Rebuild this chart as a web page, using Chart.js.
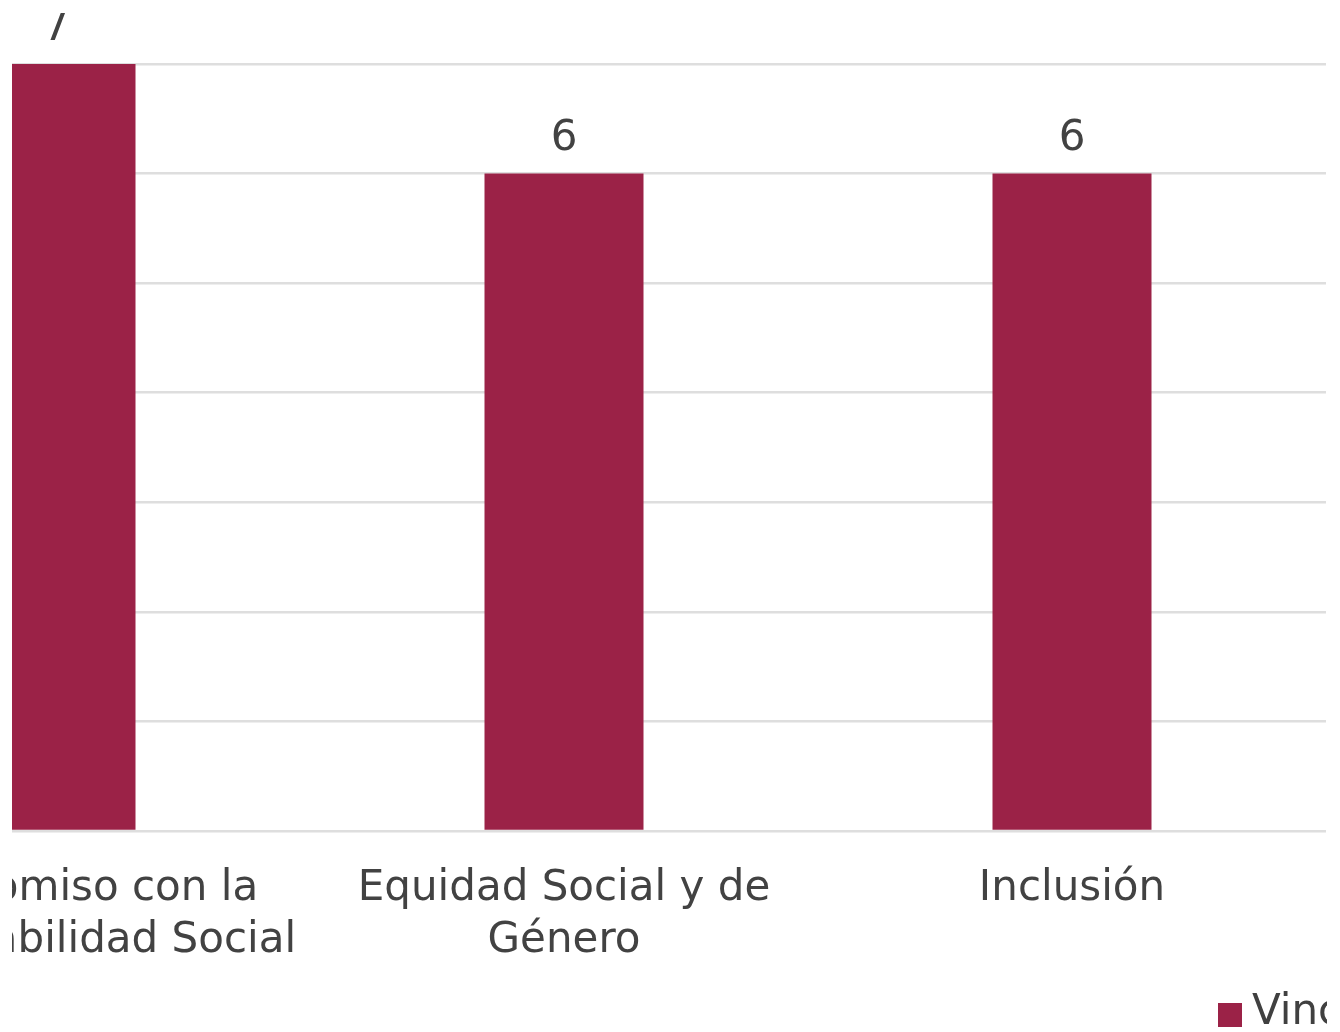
<!DOCTYPE html>
<html>
<head>
<meta charset="utf-8">
<script src="https://cdn.jsdelivr.net/npm/chart.js@4"></script>
<style>
  body { margin: 0; background: #fff; }
  #clip { position: absolute; left: 12px; top: 13px; width: 1315px; height: 1019px; overflow: hidden; }
  #wrap { position: absolute; left: -232px; top: -13px; width: 1560px; height: 1032px; }
  #legend { position: absolute; left: 1206px; top: 976px; white-space: nowrap;
            font: 42px "DejaVu Sans"; line-height: 42px; color: #404040; }
  #legend .box { position: absolute; left: 0; top: 14px; width: 24px; height: 24px; background: #9b2247; }
  #legend .txt { position: absolute; left: 34px; top: 0; }
</style>
</head>
<body>
<div id="clip">
  <div id="wrap"><canvas id="myChart"></canvas></div>
  <div id="legend"><span class="box"></span><span class="txt" id="legend-text"></span></div>
</div>
<script>
const categories = [
  ["Compromiso con la", "Responsabilidad Social"],
  ["Equidad Social y de", "Género"],
  ["Inclusión"],
];
const seriesName = "Vinculación";
const values = [7, 6, 6];
const yTicks = [0, 1, 2, 3, 4, 5, 6, 7];

const barColor = "#9b2247";
const textColor = "#424242";
const fontFamily = "'DejaVu Sans', sans-serif";

document.getElementById("legend-text").textContent = seriesName;

// value labels above each bar
const valueLabels = {
  id: "valueLabels",
  afterDatasetsDraw(chart) {
    const c = chart.ctx;
    c.save();
    c.font = "42px " + fontFamily;
    c.fillStyle = textColor;
    c.textAlign = "center";
    c.textBaseline = "alphabetic";
    chart.getDatasetMeta(0).data.forEach((bar, i) => {
      c.fillText(String(values[i]), bar.x, bar.y - 24);
    });
    c.restore();
  },
};

const ctx = document.getElementById("myChart");

new Chart(ctx, {
  type: "bar",
  data: {
    labels: categories,
    datasets: [
      {
        label: seriesName,
        data: values,
        backgroundColor: barColor,
        categoryPercentage: 1,
        barPercentage: 0.313,
      },
    ],
  },
  options: {
    responsive: true,
    maintainAspectRatio: false,
    animation: false,
    layout: { padding: { left: 22, right: 14, top: 64, bottom: 0 } },
    plugins: {
      legend: { display: false },
      tooltip: { enabled: false },
    },
    scales: {
      x: {
        grid: { display: false },
        border: { display: false },
        ticks: {
          color: textColor,
          padding: 24,
          maxRotation: 0,
          autoSkip: false,
          font: { family: fontFamily, size: 42, lineHeight: 1.24 },
        },
        afterFit(scale) {
          scale.height = 201;
        },
      },
      y: {
        min: yTicks[0],
        max: yTicks[yTicks.length - 1],
        border: { display: false },
        grid: { color: "#dedede", lineWidth: 2.5, drawTicks: false },
        ticks: { display: false, stepSize: 1 },
        afterFit(scale) {
          scale.width = 0;
        },
      },
    },
  },
  plugins: [valueLabels],
});
</script>
</body>
</html>
